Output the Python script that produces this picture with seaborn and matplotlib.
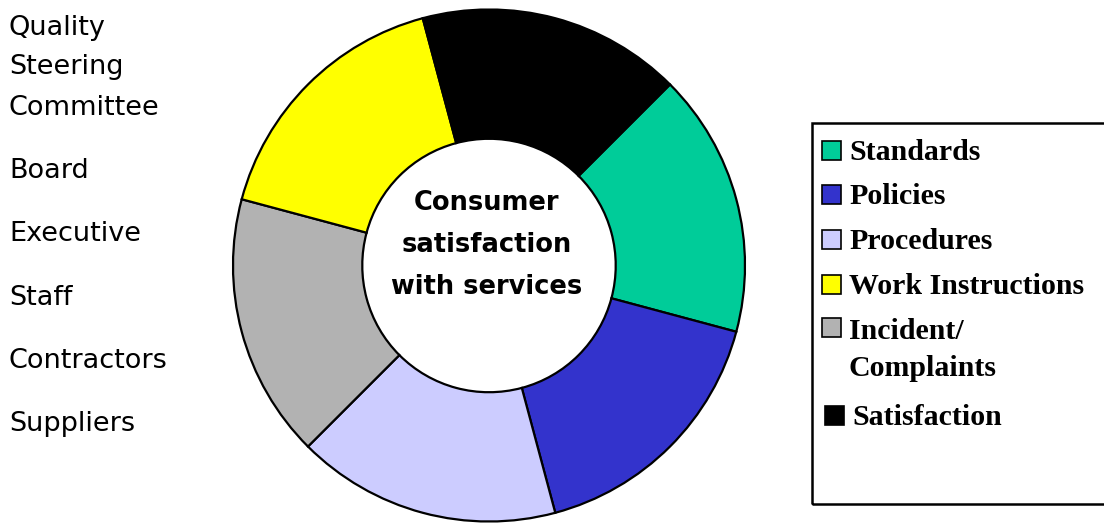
import matplotlib
matplotlib.use("Agg")
import matplotlib.pyplot as plt
from matplotlib.patches import Rectangle
import seaborn as sns

# donut segments, clockwise from the upper right
segments = ["Standards", "Policies", "Procedures", "Incident/\nComplaints",
            "Work Instructions", "Satisfaction"]
shares = [1, 1, 1, 1, 1, 1]
seg_colors = ["#00CC99", "#3333CC", "#CCCCFF", "#B2B2B2", "#FFFF00", "#000000"]

# legend order
legend_labels = ["Standards", "Policies", "Procedures", "Work Instructions",
                 "Incident/\nComplaints", "Satisfaction"]
legend_baselines = [160, 204, 249, 294, 337, 425]  # first-line baseline, px from top

centre_text = "Consumer\nsatisfaction\nwith services"

left_labels = ["Quality", "Steering", "Committee", "Board", "Executive",
               "Staff", "Contractors", "Suppliers"]
left_baselines = [35, 74, 115, 178, 241, 305, 368, 431]  # pixels from top

sns.set_theme(style="white")
plt.rcParams['font.family'] = ['DejaVu Sans']
plt.rcParams['text.color'] = 'black'

W, H = 1104, 523
fig = plt.figure(figsize=(W / 100, H / 100), dpi=100)

cx, cy, r = 489, 265.5, 256
ax = fig.add_axes([(cx - r) / W, (H - cy - r) / H, 2 * r / W, 2 * r / H])
palette = sns.color_palette(seg_colors)
ax.pie(shares, colors=palette, startangle=45, counterclock=False, radius=1,
       wedgeprops=dict(width=0.505, edgecolor="black", linewidth=1.6))
ax.set_xlim(-1, 1)
ax.set_ylim(-1, 1)
ax.set_aspect("equal")
ax.axis("off")

ax.text(-0.01, 0.08, centre_text, ha="center", va="center", fontsize=18.5,
        fontweight="bold", linespacing=1.8)

for lab, yb in zip(left_labels, left_baselines):
    fig.text(9 / W, 1 - yb / H, lab, ha="left", va="baseline", fontsize=19.5)

# legend box
fig.patches.append(Rectangle((812 / W, 1 - 504 / H), (W - 812 + 10) / W,
                             (504 - 123) / H, transform=fig.transFigure,
                             fill=False, edgecolor="black", linewidth=1.8))

colour_of = dict(zip(segments, seg_colors))
sq = 19
line_gap = 39
for lab, yb in zip(legend_labels, legend_baselines):
    x0 = 825 if lab == "Satisfaction" else 822
    yc = yb - 10
    fig.patches.append(Rectangle((x0 / W, 1 - (yc + sq / 2) / H), sq / W, sq / H,
                                 transform=fig.transFigure,
                                 facecolor=colour_of[lab], edgecolor="black",
                                 linewidth=1.2))
    # multi-line text is anchored on its last baseline
    y_last = yb + lab.count("\n") * line_gap
    fig.text((x0 + sq + 8) / W, 1 - y_last / H, lab, ha="left", va="baseline",
             family="Liberation Serif", weight="bold", fontsize=21.5,
             linespacing=1.47)

fig.savefig("out.png", dpi=100)
